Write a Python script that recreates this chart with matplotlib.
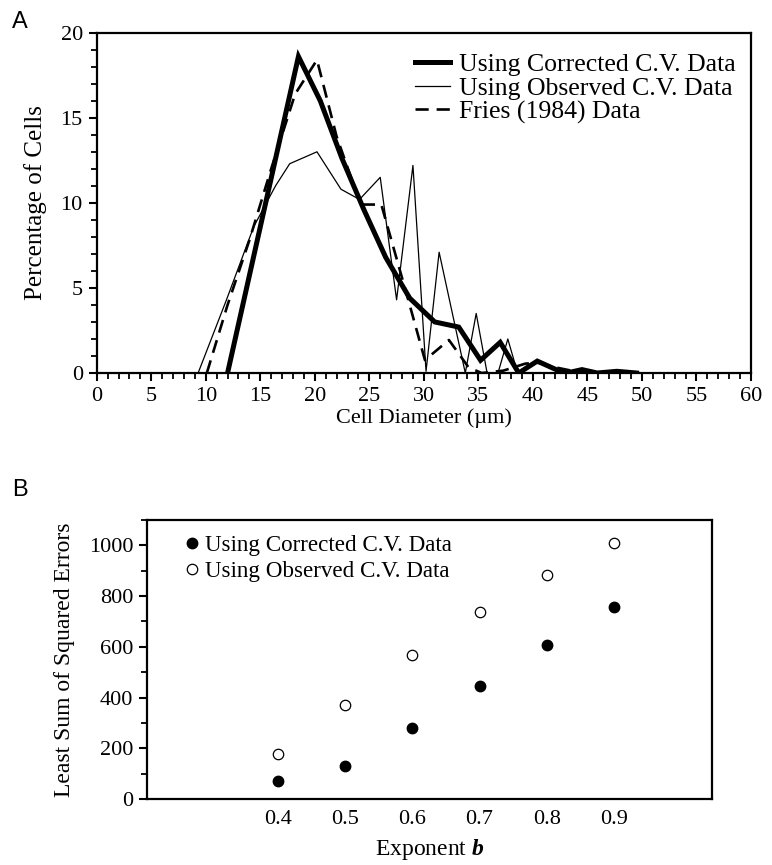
import matplotlib
matplotlib.use("Agg")
import matplotlib.pyplot as plt
from matplotlib.ticker import MultipleLocator

plt.rcParams['font.family'] = ['Liberation Serif', 'DejaVu Serif']
plt.rcParams['mathtext.fontset'] = 'custom'
plt.rcParams['mathtext.rm'] = 'Liberation Serif'
plt.rcParams['mathtext.it'] = 'Liberation Serif:italic'
plt.rcParams['mathtext.bf'] = 'Liberation Serif:bold'
plt.rcParams['mathtext.bfit'] = 'Liberation Serif:italic:bold'

# ---- Panel A data ----
corr_x = [12, 18.5, 20.5, 22.5, 24.5, 26.5, 28.7, 31.0, 33.2, 35.2, 37.0, 38.7, 40.4, 42.2, 43.1, 44.5, 45.9, 47.7, 49.5]
corr_y = [0, 18.6, 16.0, 12.6, 9.6, 6.8, 4.4, 3.0, 2.7, 0.75, 1.8, 0, 0.7, 0.18, 0, 0.2, 0, 0.1, 0]

obs_x = [9.3, 11.9, 14.4, 16.4, 17.7, 20.2, 22.4, 24.1, 26.0, 27.5, 29.0, 30.2, 31.4, 33.8, 34.8, 35.8, 36.8, 37.7, 38.6]
obs_y = [0, 4.3, 8.6, 11.0, 12.3, 13.0, 10.8, 10.2, 11.5, 4.3, 12.2, 0.1, 7.1, 0, 3.5, 0, 0, 2.0, 0]

fries_x = [10.1, 12.0, 14.0, 16.0, 18.2, 20.2, 22.0, 24.2, 26.1, 28.7, 30.1, 32.3, 34.1, 35.3, 37.3, 39.3, 40.5, 42.3, 44.2, 45.0]
fries_y = [0, 4.0, 7.8, 12.0, 16.4, 18.4, 13.9, 9.9, 9.9, 4.0, 0.76, 1.94, 0.33, 0, 0.14, 0.55, 0.6, 0.3, 0.05, 0]

# ---- Panel B data ----
b_vals = [0.4, 0.5, 0.6, 0.7, 0.8, 0.9]
b_labels = ['0.4', '0.5', '0.6', '0.7', '0.8', '0.9']
sse_corrected = [70, 131, 280, 444, 606, 758]
sse_observed = [177, 372, 568, 736, 882, 1009]

fig = plt.figure(figsize=(7.72, 8.65), dpi=100)

def style_axes(ax):
    for s in ax.spines.values():
        s.set_linewidth(1.6)
    ax.tick_params(which='major', direction='out', length=6, width=1.5, labelsize=16, pad=4)
    ax.tick_params(which='minor', direction='out', length=4, width=1.3)

# Panel A
axA = fig.add_axes([96.7/772, 1 - 373/865, (751 - 96.7)/772, (373 - 32.7)/865])
axA.plot(corr_x, corr_y, color='black', lw=3.6, solid_joinstyle='miter', label='Using Corrected C.V. Data')
axA.plot(obs_x, obs_y, color='black', lw=0.9, label='Using Observed C.V. Data')
axA.plot(fries_x, fries_y, color='black', lw=1.9, dashes=(5, 3), label='Fries (1984) Data')
axA.set_xlim(0, 60)
axA.set_ylim(0, 20)
axA.xaxis.set_major_locator(MultipleLocator(5))
axA.xaxis.set_minor_locator(MultipleLocator(1))
axA.yaxis.set_major_locator(MultipleLocator(5))
axA.yaxis.set_minor_locator(MultipleLocator(1))
style_axes(axA)
axA.set_xlabel('Cell Diameter (\u00b5m)', fontsize=16, labelpad=2)
axA.set_ylabel('Percentage of Cells', fontsize=18, labelpad=10)
axA.legend(loc='upper right', frameon=False, fontsize=18.5, handlelength=1.35,
           handletextpad=0.35, labelspacing=0.02, borderaxespad=0.2,
           bbox_to_anchor=(1.0, 0.985))

# Panel B
axB = fig.add_axes([147/772, 1 - 799/865, (712 - 147)/772, (799 - 520)/865])
axB.plot(b_vals, sse_corrected, 'o', color='black', ms=7.5, label='Using Corrected C.V. Data')
axB.plot(b_vals, sse_observed, 'o', mfc='white', mec='black', mew=0.9, ms=7.5, label='Using Observed C.V. Data')
axB.set_xlim(0.205, 1.046)
axB.set_ylim(0, 1100)
axB.set_xticks(b_vals)
axB.set_xticklabels(b_labels)
axB.yaxis.set_major_locator(MultipleLocator(200))
axB.yaxis.set_minor_locator(MultipleLocator(100))
style_axes(axB)
axB.tick_params(axis='x', which='major', length=0, pad=8)
axB.set_xlabel('Exponent $\\mathbfit{b}$', fontsize=17, labelpad=6)
axB.set_ylabel('Least Sum of Squared Errors', fontsize=17, labelpad=10)
axB.legend(loc='upper left', frameon=False, fontsize=16.6, handlelength=0.6,
           handletextpad=0.25, labelspacing=0.2, borderaxespad=0.3,
           bbox_to_anchor=(0.039, 1.005))

fig.text(12/772, 1 - 22/865, 'A', fontsize=17, family='Liberation Sans', va='center', ha='left')
fig.text(12/772, 1 - 490/865, 'B', fontsize=17, family='Liberation Sans', va='center', ha='left')

fig.savefig('out.png', dpi=100)
